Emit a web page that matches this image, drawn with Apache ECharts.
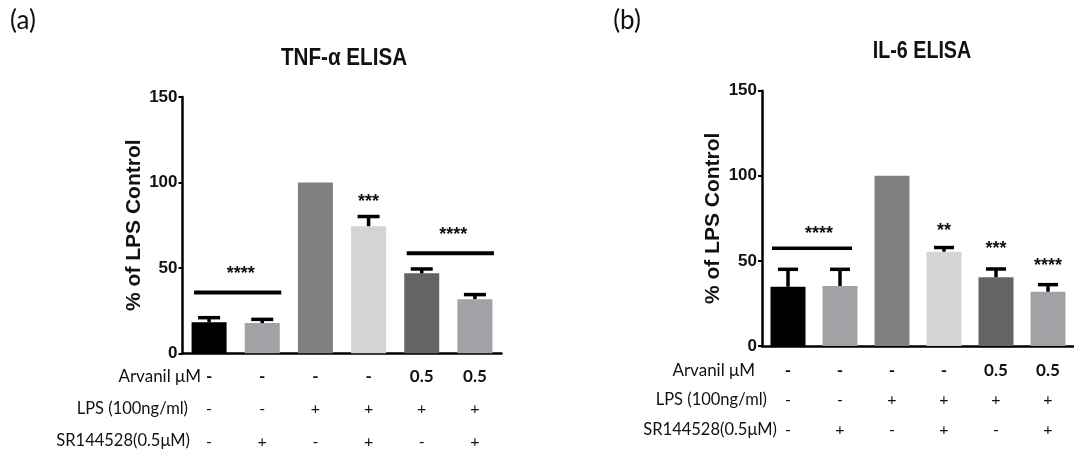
<!DOCTYPE html>
<html>
<head>
<meta charset="utf-8">
<title>TNF-α and IL-6 ELISA</title>
<script src="https://cdn.jsdelivr.net/npm/echarts@6/dist/echarts.min.js"></script>
<style>
  html, body { margin: 0; padding: 0; background: #ffffff; }
  #chart { width: 1074px; height: 454px; }
</style>
</head>
<body>
<div id="chart"></div>
<script>
// ---- data ----
const groups = ['G1', 'G2', 'G3', 'G4', 'G5', 'G6'];
const arvanilRow = ['-', '-', '-', '-', '0.5', '0.5'];
const lpsRow = ['-', '-', '+', '+', '+', '+'];
const srRow = ['-', '+', '-', '+', '-', '+'];
const yTicks = [0, 50, 100, 150];

// TNF-α, % of LPS control (mean and upper SEM)
const tnfMean = [18.1, 17.7, 100, 74.4, 46.8, 31.7];
const tnfSem = [2.9, 2.3, 0, 5.8, 2.7, 2.8];
// IL-6, % of LPS control (mean and upper SEM)
const il6Mean = [34.8, 35.3, 100, 55.4, 40.4, 31.9];
const il6Sem = [10.4, 9.9, 0, 2.6, 5.0, 4.3];

// significance bars: [from group, to group, level]
const tnfBars = [[0, 1, 35.6], [4, 5, 58.6]];
const il6Bars = [[0, 1, 57.4]];
// significance marks: [from group, to group, level]
const tnfMarks = [[0, 1, 48.9], [3, 3, 90.6], [4, 5, 71.4]];
const tnfMarkText = ['****', '***', '****'];
const il6Marks = [[0, 1, 68.3], [3, 3, 69.9], [4, 4, 59.2], [5, 5, 49.4]];
const il6MarkText = ['****', '**', '***', '****'];

// ---- styles ----
const barColors = ['#000000', '#a2a2a6', '#808080', '#d4d4d4', '#646464', '#a2a2a6'];
const ARIAL = '"Liberation Sans", Arial, sans-serif';
const CAL = 'Lato, "Open Sans", sans-serif';

const chart = echarts.init(document.getElementById('chart'), null, { renderer: 'canvas' });

function xAxisFor(gridIndex, lineH, margin) {
  return {
    type: 'category',
    gridIndex: gridIndex,
    data: groups,
    axisLine: { lineStyle: { color: '#000', width: 2.5 } },
    axisTick: { alignWithLabel: true, length: 6, lineStyle: { color: '#000', width: 2 } },
    axisLabel: {
      interval: 0,
      margin: margin,
      formatter: function (v, i) {
        return '{a|' + arvanilRow[i] + '}\n{b|' + lpsRow[i] + '}\n{b|' + srRow[i] + '}';
      },
      rich: {
        a: { fontFamily: CAL, fontWeight: 'bold', fontSize: 17, color: '#111', lineHeight: lineH },
        b: { fontFamily: CAL, fontSize: 16, color: '#111', lineHeight: lineH }
      }
    }
  };
}

function yAxisFor(gridIndex, gap) {
  return {
    type: 'value',
    gridIndex: gridIndex,
    min: 0, max: 150, interval: 50,
    name: '% of LPS Control',
    nameLocation: 'middle',
    nameGap: gap,
    nameTextStyle: { fontFamily: ARIAL, fontWeight: 'bold', fontSize: 21, color: '#111' },
    axisLine: { show: true, lineStyle: { color: '#000', width: 2.5 } },
    axisTick: { show: true, length: 4, lineStyle: { color: '#000', width: 2 } },
    splitLine: { show: false },
    axisLabel: {
      margin: 5,
      fontFamily: ARIAL, fontWeight: 'bold', fontSize: 17, color: '#111',
      formatter: function (v) { return yTicks.indexOf(v) >= 0 ? String(v) : ''; }
    }
  };
}

function barSeries(axisIndex, means) {
  return {
    type: 'bar',
    xAxisIndex: axisIndex, yAxisIndex: axisIndex,
    barWidth: 35,
    data: means.map(function (v, i) { return { value: v, itemStyle: { color: barColors[i] } }; }),
    z: 2
  };
}

function errorSeries(axisIndex, means, sems, capW) {
  return {
    type: 'custom',
    xAxisIndex: axisIndex, yAxisIndex: axisIndex,
    data: means.map(function (m, i) { return [i, m, sems[i]]; }),
    encode: { x: 0, y: 1 },
    z: 3,
    renderItem: function (params, api) {
      const i = api.value(0), m = api.value(1), s = api.value(2);
      if (!s) return null;
      const base = api.coord([i, m]);
      const top = api.coord([i, m + s]);
      return {
        type: 'group',
        children: [
          { type: 'rect', shape: { x: base[0] - 1.75, y: top[1], width: 3.5, height: base[1] - top[1] }, style: { fill: '#000' } },
          { type: 'rect', shape: { x: base[0] - capW / 2, y: top[1] - 1.5, width: capW, height: 3.5 }, style: { fill: '#000' } }
        ]
      };
    }
  };
}

function sigBarSeries(axisIndex, rows, overL, overR, lw) {
  return {
    type: 'custom',
    xAxisIndex: axisIndex, yAxisIndex: axisIndex,
    data: rows,
    encode: { x: 0, y: 2 },
    z: 4,
    renderItem: function (params, api) {
      const a = api.coord([api.value(0), api.value(2)]);
      const b = api.coord([api.value(1), api.value(2)]);
      return {
        type: 'line',
        shape: { x1: a[0] - overL, y1: a[1], x2: b[0] + overR, y2: b[1] },
        style: { stroke: '#000', lineWidth: lw }
      };
    }
  };
}

function sigMarkSeries(axisIndex, rows, texts, dx) {
  return {
    type: 'custom',
    xAxisIndex: axisIndex, yAxisIndex: axisIndex,
    data: rows,
    encode: { x: 0, y: 2 },
    z: 4,
    renderItem: function (params, api) {
      const a = api.coord([api.value(0), api.value(2)]);
      const b = api.coord([api.value(1), api.value(2)]);
      const shift = api.value(0) === api.value(1) ? 0 : dx;
      return {
        type: 'text',
        x: (a[0] + b[0]) / 2 + shift,
        y: a[1] + 4,
        style: {
          text: texts[params.dataIndex],
          align: 'center', verticalAlign: 'middle',
          font: 'bold 18px ' + ARIAL,
          fill: '#111'
        }
      };
    }
  };
}

function label(text, x, y, font, align, sx) {
  return {
    type: 'text', x: x, y: y, scaleX: sx || 1,
    style: { text: text, font: font, fill: '#111', align: align || 'center', verticalAlign: 'middle' }
  };
}

const option = {
  animation: false,
  backgroundColor: '#ffffff',
  grid: [
    { left: 182.5, top: 97, width: 319, height: 256.3 },
    { left: 762, top: 90.7, width: 318, height: 255.3 }
  ],
  xAxis: [xAxisFor(0, 32.5, 7), xAxisFor(1, 29.5, 10)],
  yAxis: [yAxisFor(0, 38), yAxisFor(1, 38)],
  series: [
    barSeries(0, tnfMean),
    errorSeries(0, tnfMean, tnfSem, 22),
    sigBarSeries(0, tnfBars, 15, 19, 4),
    sigMarkSeries(0, tnfMarks, tnfMarkText, 5),
    barSeries(1, il6Mean),
    errorSeries(1, il6Mean, il6Sem, 20),
    sigBarSeries(1, il6Bars, 16, 12, 3.5),
    sigMarkSeries(1, il6Marks, il6MarkText, 5)
  ],
  graphic: [
    label('(a)', 23, 21, '26px ' + CAL),
    label('(b)', 627, 21, '26px ' + CAL),
    label('TNF-α ELISA', 344, 58, 'bold 24px ' + ARIAL, 'center', 0.86),
    label('IL-6 ELISA', 922, 51, 'bold 24px ' + ARIAL, 'center', 0.82),
    label('Arvanil μM', 201, 376.5, '17px ' + CAL, 'right'),
    label('LPS (100ng/ml)', 188, 409, '16.5px ' + CAL, 'right'),
    label('SR144528(0.5μM)', 190, 441, '16.5px ' + CAL, 'right'),
    label('Arvanil μM', 755, 371, '17px ' + CAL, 'right'),
    label('LPS (100ng/ml)', 767, 400, '16.5px ' + CAL, 'right'),
    label('SR144528(0.5μM)', 777, 430, '16.5px ' + CAL, 'right')
  ]
};

chart.setOption(option);
</script>
</body>
</html>
